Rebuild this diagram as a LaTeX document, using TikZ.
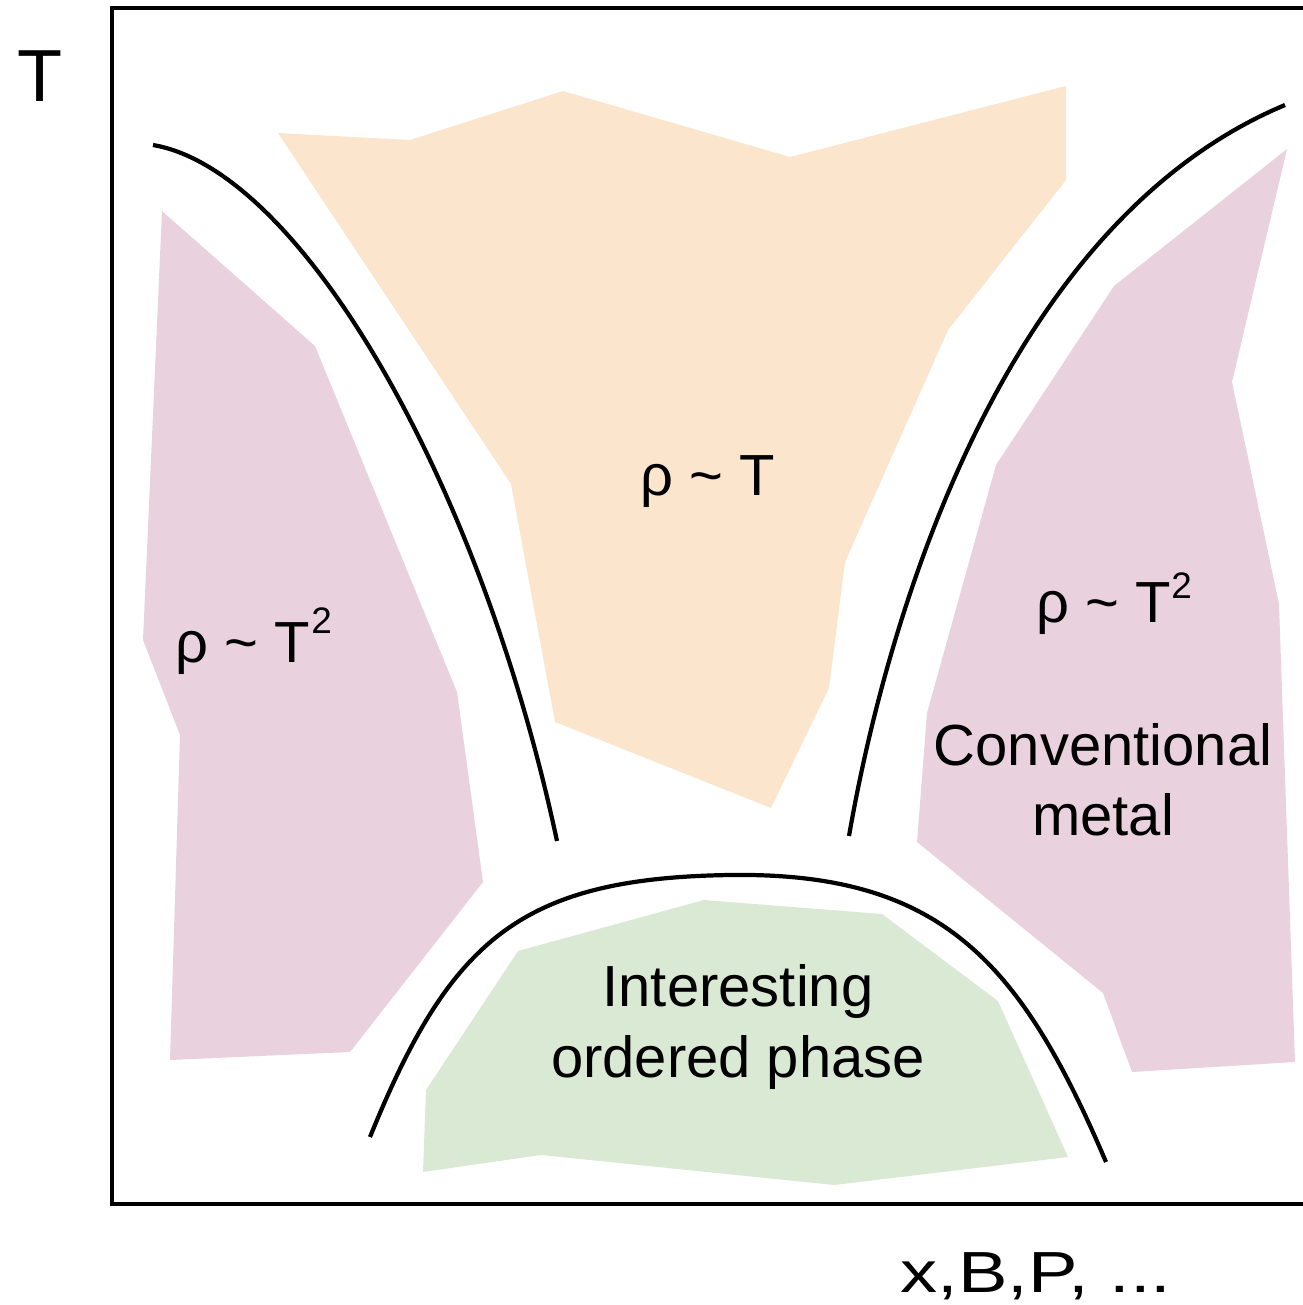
\documentclass[tikz,border=0pt]{standalone}
\usepackage{fontspec}
\setmainfont{Liberation Sans}
\definecolor{pinkph}{HTML}{E9D2DD}
\definecolor{orangeph}{HTML}{FBE5CD}
\definecolor{greenph}{HTML}{D9E9D4}

\begin{document}
\begin{tikzpicture}[x=0.02cm, y=-0.02cm,
	phase/.style={black, line width=2.4pt},
	lbl/.style={font=\fontsize{33}{40}\selectfont, align=center, inner sep=0pt},
	sq/.style={font=\fontsize{21}{24}\selectfont, inner sep=0pt}]
	\useasboundingbox (0,0) rectangle (1302,1305);
	% coloured regions
	\fill[orangeph] (278,133) -- (410,140) -- (563,91) -- (790,157) -- (1066,86) -- (1066,180)
		-- (948,330) -- (845,562) -- (829,688) -- (771,808) -- (555,722) -- (511,484) -- cycle;
	\fill[pinkph] (162,211) -- (315,346) -- (457,692) -- (483,882) -- (350,1052) -- (170,1060)
		-- (180,735) -- (143,640) -- cycle;
	\fill[pinkph] (1287,149) -- (1232,382) -- (1279,604) -- (1295,1062) -- (1132,1072) -- (1103,993)
		-- (917,842) -- (927,713) -- (996,465) -- (1114,286) -- cycle;
	\fill[greenph] (518,951) -- (704,900) -- (882,914) -- (998,1001) -- (1068,1157) -- (834,1185)
		-- (541,1155) -- (423,1172) -- (426,1090) -- cycle;
	% frame
	\draw[line width=2.6pt] (1310,8) -- (112,8) -- (112,1204) -- (1310,1204);
	% phase boundaries
	\draw[phase] (153,145) .. controls (300,170) and (480,480) .. (557,841);
	\draw[phase] (849,836) .. controls (890,600) and (1010,220) .. (1285,105);
	\draw[phase] (370,1137) .. controls (450,940) and (520,878) .. (730,875)
		.. controls (940,872) and (1020,960) .. (1106,1162);
	% labels
	\node[font=\fontsize{42}{48}\selectfont, inner sep=0pt] (taxis) at (40,76) {T};
	\node[lbl, anchor=base] (xaxis) at (1036,1292) {\scalebox{1.28}[1]{x,B,P, ...}};
	\node[lbl, anchor=base] (linear) at (708,495) {ρ \textasciitilde{} T};
	\node[lbl, anchor=base west] (leftsq) at (175,662) {ρ \textasciitilde{} T};
	\node[sq, anchor=base west] (leftsup) at (311,633) {2};
	\node[lbl, anchor=base west] (rightsq) at (1036,622) {ρ \textasciitilde{} T};
	\node[sq, anchor=base west] (rightsup) at (1171,598) {2};
	\node[lbl] (metal) at (1103,780) {Conventional\\metal};
	\node[lbl] (ordered) at (738,1027) {Interesting\\ordered phase};
\end{tikzpicture}
\end{document}
